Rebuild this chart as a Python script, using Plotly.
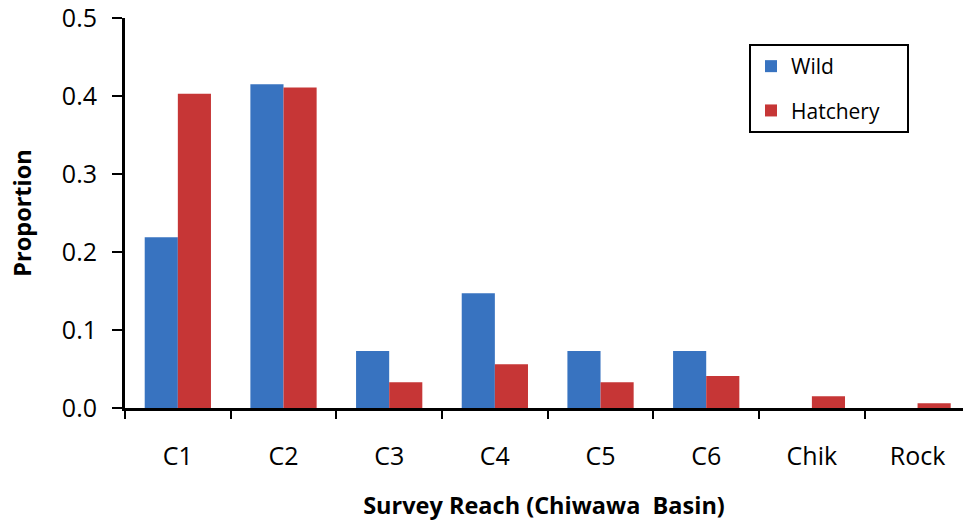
import plotly.graph_objects as go

categories = ["C1", "C2", "C3", "C4", "C5", "C6", "Chik", "Rock"]
wild = [0.219, 0.415, 0.073, 0.147, 0.073, 0.073, 0.0, 0.0]
hatchery = [0.403, 0.411, 0.033, 0.056, 0.033, 0.041, 0.015, 0.006]
y_ticks = [0.0, 0.1, 0.2, 0.3, 0.4, 0.5]
y_tick_labels = ["0.0", "0.1", "0.2", "0.3", "0.4", "0.5"]

FONT = "'Open Sans', sans-serif"
PAD = "\u00a0" * 4

fig = go.Figure()
fig.add_trace(go.Bar(
    x=categories, y=wild, name="Wild", legendgroup="w",
    marker=dict(color="#3873C0", line=dict(width=0)),
))
fig.add_trace(go.Bar(
    x=categories, y=hatchery, name="Hatchery" + PAD, legendgroup="h",
    marker=dict(color="#C63636", line=dict(width=0)),
))

fig.update_layout(
    width=963, height=521,
    margin=dict(l=125, r=0, t=18, b=113),
    paper_bgcolor="white", plot_bgcolor="white",
    barmode="group", bargap=0.373, bargroupgap=0,
    font=dict(family=FONT, color="black", size=24),
    showlegend=True,
    legend=dict(
        x=(909 - 125) / 838, y=(408 - 44) / 390, xanchor="right", yanchor="top",
        bordercolor="black", borderwidth=2, bgcolor="white",
        font=dict(size=21), tracegroupgap=14,
    ),
    xaxis=dict(
        range=[-0.5, 7.43],
        automargin=False,
        showline=True, linecolor="black", linewidth=3,
        ticks="outside", tickson="boundaries", ticklen=8, tickwidth=2, tickcolor="black",
        ticklabelstandoff=24,
        tickfont=dict(size=25),
        title=dict(text="<b>Survey Reach (Chiwawa\u00a0 Basin)</b>", font=dict(size=23.5), standoff=30),
        showgrid=False, zeroline=False,
    ),
    yaxis=dict(
        range=[0, 0.5],
        automargin=False,
        tickvals=y_ticks, ticktext=y_tick_labels,
        ticklabeloverflow="allow",
        showline=True, linecolor="black", linewidth=3,
        ticks="outside", ticklen=10, tickwidth=2, tickcolor="black",
        ticklabelstandoff=10,
        tickfont=dict(size=25),
        title=dict(text="<b>Proportion</b>", font=dict(size=23.5), standoff=24),
        showgrid=False, zeroline=False,
    ),
)

fig.write_html(
    "out.html",
    config={"displayModeBar": False},
    post_script="document.body.style.margin='0';document.body.style.overflow='hidden';",
)
